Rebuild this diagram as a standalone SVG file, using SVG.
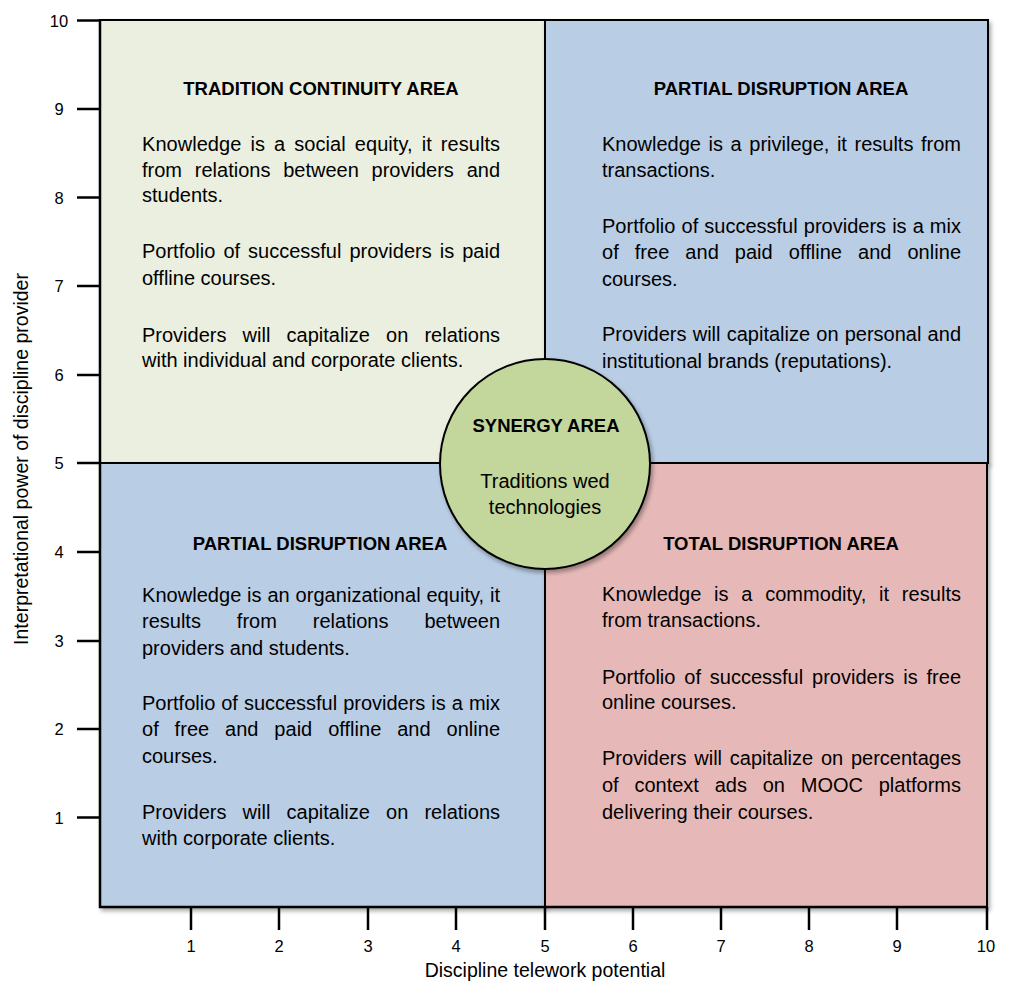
<svg xmlns="http://www.w3.org/2000/svg" width="1016" height="997" viewBox="0 0 1016 997">
<style>
.q{stroke:#000;stroke-width:2}
.h{font-family:"Liberation Sans",Arial,sans-serif;font-size:18.5px;font-weight:bold;fill:#000;text-anchor:middle}
.b{font-family:"Liberation Sans",Arial,sans-serif;font-size:20px;fill:#000}
.n{font-family:"Liberation Sans",Arial,sans-serif;font-size:16.5px;fill:#000;text-anchor:middle}
.t{font-family:"Liberation Sans",Arial,sans-serif;font-size:19.5px;fill:#000;text-anchor:middle}
.ax{stroke:#000;stroke-width:2.5;fill:none}
</style>
<defs>
<filter id="sh" x="-5%" y="-5%" width="110%" height="110%">
<feDropShadow dx="2" dy="3" stdDeviation="2" flood-color="#000" flood-opacity="0.35"/>
</filter>
</defs>
<rect width="1016" height="997" fill="#fff"/>

<g id="q-tl">
<rect class="q" x="100" y="20" width="445" height="443" fill="#EBEFDF" filter="url(#sh)"/>
<text class="h" x="321" y="95">TRADITION CONTINUITY AREA</text>
<text class="b" x="142" y="151" word-spacing="3.5" textLength="358" lengthAdjust="spacing">Knowledge is a social equity, it results</text>
<text class="b" x="142" y="177" word-spacing="7.2" textLength="358" lengthAdjust="spacing">from relations between providers and</text>
<text class="b" x="142" y="202">students.</text>
<text class="b" x="142" y="258" word-spacing="2.5" textLength="358" lengthAdjust="spacing">Portfolio of successful providers is paid</text>
<text class="b" x="142" y="285">offline courses.</text>
<text class="b" x="142" y="341.5" word-spacing="10.6" textLength="358" lengthAdjust="spacing">Providers will capitalize on relations</text>
<text class="b" x="142" y="367">with individual and corporate clients.</text>
</g>

<g id="q-tr">
<rect class="q" x="545" y="20" width="443" height="443" fill="#B9CDE5" filter="url(#sh)"/>
<text class="h" x="781" y="95">PARTIAL DISRUPTION AREA</text>
<text class="b" x="602" y="151" word-spacing="2" textLength="359" lengthAdjust="spacing">Knowledge is a privilege, it results from</text>
<text class="b" x="602" y="177">transactions.</text>
<text class="b" x="602" y="232.5" word-spacing="0.5" textLength="359" lengthAdjust="spacing">Portfolio of successful providers is a mix</text>
<text class="b" x="602" y="258.5" word-spacing="10.4" textLength="359" lengthAdjust="spacing">of free and paid offline and online</text>
<text class="b" x="602" y="285.5">courses.</text>
<text class="b" x="602" y="341" word-spacing="0.6" textLength="359" lengthAdjust="spacing">Providers will capitalize on personal and</text>
<text class="b" x="602" y="367.5">institutional brands (reputations).</text>
</g>

<g id="q-bl">
<rect class="q" x="100" y="463" width="445" height="444" fill="#B9CDE5" filter="url(#sh)"/>
<text class="h" x="320" y="550">PARTIAL DISRUPTION AREA</text>
<text class="b" x="142" y="601.5" word-spacing="0.2" textLength="358" lengthAdjust="spacing">Knowledge is an organizational equity, it</text>
<text class="b" x="142" y="627.5" word-spacing="30.4" textLength="358" lengthAdjust="spacing">results from relations between</text>
<text class="b" x="142" y="654.5">providers and students.</text>
<text class="b" x="142" y="709.5" word-spacing="0.5" textLength="358" lengthAdjust="spacing">Portfolio of successful providers is a mix</text>
<text class="b" x="142" y="736" word-spacing="10.3" textLength="358" lengthAdjust="spacing">of free and paid offline and online</text>
<text class="b" x="142" y="762.5">courses.</text>
<text class="b" x="142" y="818.5" word-spacing="10.6" textLength="358" lengthAdjust="spacing">Providers will capitalize on relations</text>
<text class="b" x="142" y="844.5">with corporate clients.</text>
</g>

<g id="q-br">
<rect class="q" x="545" y="463" width="442" height="444" fill="#E6B9B8" filter="url(#sh)"/>
<text class="h" x="781" y="550">TOTAL DISRUPTION AREA</text>
<text class="b" x="602" y="601" word-spacing="7.1" textLength="359" lengthAdjust="spacing">Knowledge is a commodity, it results</text>
<text class="b" x="602" y="627">from transactions.</text>
<text class="b" x="602" y="683.5" word-spacing="3.3" textLength="359" lengthAdjust="spacing">Portfolio of successful providers is free</text>
<text class="b" x="602" y="709">online courses.</text>
<text class="b" x="602" y="765" word-spacing="2.2" textLength="359" lengthAdjust="spacing">Providers will capitalize on percentages</text>
<text class="b" x="602" y="792" word-spacing="10.2" textLength="359" lengthAdjust="spacing">of context ads on MOOC platforms</text>
<text class="b" x="602" y="818.5">delivering their courses.</text>
</g>

<g id="synergy">
<circle cx="545" cy="464" r="105" fill="#C3D69B" stroke="#000" stroke-width="2" filter="url(#sh)"/>
<text class="h" x="546" y="431.5">SYNERGY AREA</text>
<text class="b" x="545" y="487.5" text-anchor="middle">Traditions wed</text>
<text class="b" x="545" y="513.5" text-anchor="middle">technologies</text>
</g>

<g id="axes">
<path class="ax" d="M100,20 V907 H988"/>
<path class="ax" d="M77,20.5 H100 M77,109 H100 M77,197.5 H100 M77,286 H100 M77,375 H100 M77,463 H100 M77,552 H100 M77,641 H100 M77,729 H100 M77,817.5 H100"/>
<path class="ax" d="M191,907 V930 M279,907 V930 M368,907 V930 M456,907 V930 M545,907 V930 M633,907 V930 M721,907 V930 M809,907 V930 M897,907 V930 M987,907 V930"/>
<g class="n">
<text x="59" y="26.5">10</text>
<text x="59" y="115">9</text>
<text x="59" y="203.5">8</text>
<text x="59" y="292">7</text>
<text x="59" y="381">6</text>
<text x="59" y="469">5</text>
<text x="59" y="558">4</text>
<text x="59" y="647">3</text>
<text x="59" y="735">2</text>
<text x="59" y="823.5">1</text>
<text x="191" y="952">1</text>
<text x="279" y="952">2</text>
<text x="368" y="952">3</text>
<text x="456" y="952">4</text>
<text x="545" y="952">5</text>
<text x="633" y="952">6</text>
<text x="721" y="952">7</text>
<text x="809" y="952">8</text>
<text x="897" y="952">9</text>
<text x="986" y="952">10</text>
</g>
<text class="t" x="545" y="977">Discipline telework potential</text>
<text class="t" transform="translate(28,459) rotate(-90)">Interpretational power of discipline provider</text>
</g>
</svg>
